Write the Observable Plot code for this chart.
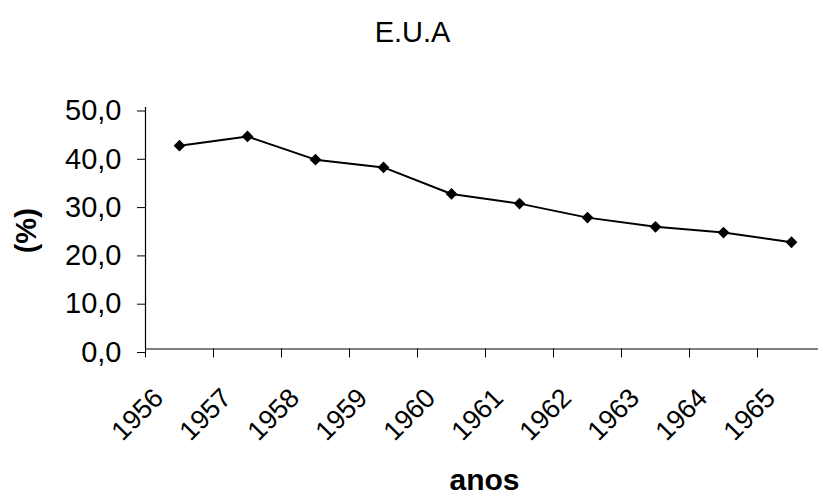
<!DOCTYPE html>
<html>
<head>
<meta charset="utf-8">
<script src="https://cdn.jsdelivr.net/npm/d3@7"></script>
<script src="https://cdn.jsdelivr.net/npm/@observablehq/plot@0.6"></script>
<style>
  html, body { margin: 0; padding: 0; background: #fff; overflow: hidden; }
  #chart svg { overflow: hidden; display: block; }
</style>
</head>
<body>
<div id="chart"></div>
<script>
const title = "E.U.A";
const xTitle = "anos";
const yTitle = "(%)";
const years = ["1956", "1957", "1958", "1959", "1960", "1961", "1962", "1963", "1964", "1965"];
const values = [42.1, 44.0, 39.2, 37.6, 32.1, 30.1, 27.2, 25.3, 24.1, 22.1];
const yTicks = [0, 10, 20, 30, 40, 50];

const data = years.map((year, i) => ({year, pos: i + 0.5, value: values[i]}));
const boundaries = d3.range(years.length + 1);
const font = "'Liberation Sans', Arial, sans-serif";

const chart = Plot.plot({
  width: 818,
  height: 495,
  marginLeft: 145,
  marginRight: -7,
  marginTop: 107,
  marginBottom: 146.5,
  style: {fontFamily: font, background: "#fff", color: "#000"},
  x: {type: "linear", domain: [0, years.length]},
  y: {domain: [0, 50]},
  marks: [
    Plot.axisY({ticks: yTicks, tickSize: 8, tickPadding: 16, fontSize: 29, dy: 3.5,
      tickFormat: d => d.toFixed(1).replace(".", ","), label: null, stroke: "#000", fill: "#000"}),
    Plot.axisX({ticks: boundaries, tickSize: 9, tickFormat: () => "", label: null, stroke: "#000"}),
    Plot.ruleX([0], {stroke: "#000", strokeWidth: 1.2}),
    Plot.ruleY([0], {stroke: "#000", strokeWidth: 1.2}),
    Plot.text(data, {x: "pos", y: () => 0, text: "year", rotate: -45, textAnchor: "end",
      lineAnchor: "bottom", dx: -14.5, dy: 50.5, fontSize: 27, fill: "#000"}),
    Plot.line(data, {x: "pos", y: "value", stroke: "#000", strokeWidth: 2}),
    Plot.dot(data, {x: "pos", y: "value", symbol: "diamond2", r: 5.3, fill: "#000", stroke: "none"}),
    Plot.text([title], {frameAnchor: "top", text: d => d, dx: -73, dy: -66, lineAnchor: "bottom",
      fontSize: 29, fill: "#000"}),
    Plot.text([xTitle], {frameAnchor: "bottom", text: d => d, dx: -1, dy: 141, lineAnchor: "bottom",
      fontSize: 30, fontWeight: "bold", fill: "#000"}),
    Plot.text([yTitle], {frameAnchor: "left", text: d => d, dx: -118.5, dy: 2.5, rotate: -90,
      lineAnchor: "middle", textAnchor: "middle", fontSize: 29, fontWeight: "bold", fill: "#000"})
  ]
});
document.getElementById("chart").appendChild(chart);
</script>
</body>
</html>
